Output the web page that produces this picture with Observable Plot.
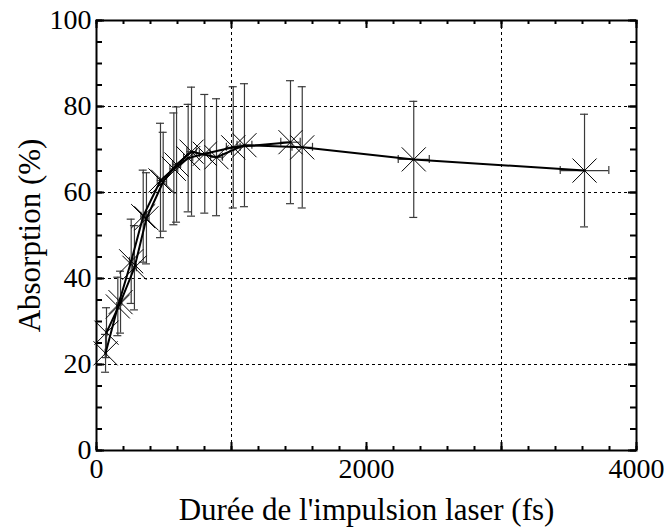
<!DOCTYPE html>
<html>
<head>
<meta charset="utf-8">
<script src="https://cdn.jsdelivr.net/npm/d3@7"></script>
<script src="https://cdn.jsdelivr.net/npm/@observablehq/plot@0.6"></script>
<style>
  html, body { margin: 0; padding: 0; background: #fff; }
</style>
</head>
<body>
<div id="chart"></div>
<script>
// Series A (pulse duration in fs, absorption in %)
const durA  = [67, 158, 257, 346, 474, 573, 679, 802, 1013, 1437];
const absA  = [22.6, 33.5, 44, 54.5, 62.8, 65.5, 68, 69, 70.5, 71.7];
const errA  = [4.4, 6.8, 9.8, 10.7, 13.3, 13, 12.5, 13.8, 14.1, 14.3];
const xerrA = [3, 8, 13, 17, 24, 29, 34, 40, 51, 72];
// Series B
const durB  = [74, 178, 281, 370, 494, 593, 704, 889, 1096, 1524, 2350, 3615];
const absB  = [27.4, 34.5, 42.5, 54, 62.5, 66.5, 69.5, 68.2, 71, 70.5, 67.7, 65.1];
const errB  = [5.8, 7.2, 9.8, 10.6, 11.5, 13.4, 15, 13.6, 14.3, 14.1, 13.5, 13.1];
const xerrB = [4, 9, 14, 19, 25, 30, 35, 44, 55, 76, 115, 180];

// Axis ticks
const xTickLabels = [0, 2000, 4000];
const xMajorTicks = [0, 1000, 2000, 3000, 4000];
const xMinorTicks = d3.range(0, 4001, 200);
const xGrid = [1000, 3000];
const yTickLabels = [0, 20, 40, 60, 80, 100];
const yMinorTicks = d3.range(0, 101, 5);
const yGrid = [20, 40, 60, 80];

const xTitle = "Durée de l'impulsion laser (fs)";
const yTitle = "Absorption (%)";

const rows = [
  ...durA.map((d, i) => ({s: "A", x: d, y: absA[i], e: errA[i], xe: xerrA[i]})),
  ...durB.map((d, i) => ({s: "B", x: d, y: absB[i], e: errB[i], xe: xerrB[i]}))
];

const barColor = "#3a3a3a";

const chart = Plot.plot({
  width: 664,
  height: 529,
  marginLeft: 96,
  marginRight: 28,
  marginTop: 20,
  marginBottom: 79,
  style: {fontFamily: "'Liberation Serif', 'Times New Roman', serif", fontSize: "28px", background: "#fff", color: "#000"},
  x: {domain: [0, 4000], axis: null},
  y: {domain: [0, 100], axis: null},
  marks: [
    // grid
    Plot.ruleY(yGrid, {y: d => d, stroke: "#000", strokeWidth: 1, strokeDasharray: "3,3"}),
    Plot.ruleX(xGrid, {x: d => d, stroke: "#000", strokeWidth: 1, strokeDasharray: "3,3"}),
    // ticks bottom / top
    Plot.ruleX(xMinorTicks, {x: d => d, y1: 0, y2: 0, insetTop: -4, stroke: "#000", strokeWidth: 2}),
    Plot.ruleX(xMajorTicks, {x: d => d, y1: 0, y2: 0, insetTop: -8, stroke: "#000", strokeWidth: 2}),
    Plot.ruleX(xMinorTicks, {x: d => d, y1: 100, y2: 100, insetBottom: -4, stroke: "#000", strokeWidth: 2}),
    Plot.ruleX(xMajorTicks, {x: d => d, y1: 100, y2: 100, insetBottom: -8, stroke: "#000", strokeWidth: 2}),
    // ticks left / right
    Plot.ruleY(yMinorTicks, {y: d => d, x1: 0, x2: 0, insetRight: -6, stroke: "#000", strokeWidth: 2}),
    Plot.ruleY(yTickLabels, {y: d => d, x1: 0, x2: 0, insetRight: -8, stroke: "#000", strokeWidth: 2}),
    Plot.ruleY(yMinorTicks, {y: d => d, x1: 4000, x2: 4000, insetLeft: -6, stroke: "#000", strokeWidth: 2}),
    Plot.ruleY(yTickLabels, {y: d => d, x1: 4000, x2: 4000, insetLeft: -8, stroke: "#000", strokeWidth: 2}),
    // vertical error bars
    Plot.ruleX(rows, {x: "x", y1: d => d.y - d.e, y2: d => d.y + d.e, stroke: barColor, strokeWidth: 1.2}),
    Plot.ruleY(rows, {y: d => d.y - d.e, x1: "x", x2: "x", insetLeft: -4, insetRight: -4, stroke: barColor, strokeWidth: 1.2}),
    Plot.ruleY(rows, {y: d => d.y + d.e, x1: "x", x2: "x", insetLeft: -4, insetRight: -4, stroke: barColor, strokeWidth: 1.2}),
    // horizontal error bars
    Plot.ruleY(rows, {y: "y", x1: d => d.x - d.xe, x2: d => d.x + d.xe, stroke: barColor, strokeWidth: 1.2}),
    Plot.ruleX(rows, {x: d => d.x - d.xe, y1: "y", y2: "y", insetTop: -4, insetBottom: -4, stroke: barColor, strokeWidth: 1.2}),
    Plot.ruleX(rows, {x: d => d.x + d.xe, y1: "y", y2: "y", insetTop: -4, insetBottom: -4, stroke: barColor, strokeWidth: 1.2}),
    // lines
    Plot.line(rows, {x: "x", y: "y", z: "s", stroke: "#000", strokeWidth: 2}),
    // markers
    Plot.dot(rows, {x: "x", y: "y", symbol: "times", r: 11, stroke: "#000", strokeWidth: 1}),
    // frame
    Plot.frame({stroke: "#000", strokeWidth: 2}),
    // tick labels
    Plot.text(xTickLabels, {x: d => d, frameAnchor: "bottom", dy: 27, text: d => String(d), fontSize: 28}),
    Plot.text(yTickLabels, {y: d => d, frameAnchor: "left", dx: -5, textAnchor: "end", text: d => String(d), fontSize: 28}),
    // titles
    Plot.text([xTitle], {frameAnchor: "bottom", dy: 69, textAnchor: "middle", fontSize: 31}),
    Plot.text([yTitle], {frameAnchor: "left", dx: -66, textAnchor: "middle", rotate: -90, fontSize: 31})
  ]
});

document.getElementById("chart").appendChild(chart);
</script>
</body>
</html>
